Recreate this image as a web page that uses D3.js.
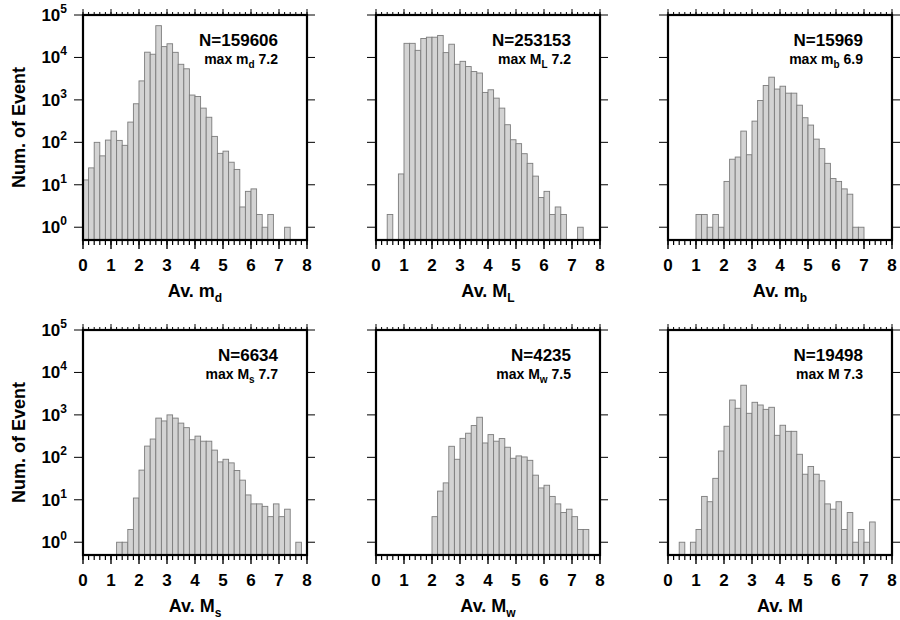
<!DOCTYPE html>
<html>
<head>
<meta charset="utf-8">
<script src="https://cdn.jsdelivr.net/npm/d3@7"></script>
<style>
  body { margin: 0; background: #fff; }
  text { font-family: "Liberation Sans", Arial, Helvetica, sans-serif; font-weight: bold; fill: #000; }
</style>
</head>
<body>
<div id="chart"></div>
<script>
// bin left edges (width 0.2)
var binStarts = [0.0, 0.2, 0.4, 0.6, 0.8, 1.0, 1.2, 1.4, 1.6, 1.8,
                 2.0, 2.2, 2.4, 2.6, 2.8, 3.0, 3.2, 3.4, 3.6, 3.8,
                 4.0, 4.2, 4.4, 4.6, 4.8, 5.0, 5.2, 5.4, 5.6, 5.8,
                 6.0, 6.2, 6.4, 6.6, 6.8, 7.0, 7.2, 7.4, 7.6, 7.8];
var binWidth = 0.2;

// counts per bin
var countsMd = [13, 25, 100, 48, 113, 184, 111, 85, 300, 810,
                2800, 13300, 11900, 56000, 18000, 21000, 13200, 6900, 5400, 1300,
                1200, 640, 390, 138, 55, 62, 34, 23, 3, 7,
                8, 2, 1, 2, 0, 0, 1, 0, 0, 0];
var countsML = [0, 0, 2, 0, 18, 21500, 21500, 14700, 28000, 30000,
                30000, 33000, 13000, 20500, 6900, 8100, 6100, 4650, 4300, 1500,
                1730, 1100, 640, 260, 115, 93, 54, 32, 16, 5,
                7, 2, 3, 2, 0, 0, 1, 0, 0, 0];
var countsMb = [0, 0, 0, 0, 0, 2, 2, 1, 2, 1,
                12, 40, 45, 184, 51, 316, 970, 2180, 3430, 1800,
                2100, 1440, 1440, 750, 380, 255, 119, 71, 32, 14,
                12, 8, 6, 1, 1, 0, 0, 0, 0, 0];
var countsMs = [0, 0, 0, 0, 0, 0, 1, 1, 2, 11,
                50, 184, 270, 840, 720, 1000, 840, 640, 500, 260,
                316, 240, 240, 148, 78, 90, 74, 49, 29, 13,
                8, 8, 7, 4, 8, 4, 6, 0, 1, 0];
var countsMw = [0, 0, 0, 0, 0, 0, 0, 0, 0, 0,
                4, 16, 25, 182, 90, 280, 370, 560, 880, 218,
                343, 240, 277, 173, 95, 108, 102, 85, 38, 19,
                22, 12, 8, 5, 6, 4, 2, 2, 0, 0];
var countsM  = [0, 0, 1, 0, 1, 2, 12, 9, 32, 141,
                540, 2240, 1430, 5000, 1090, 1980, 1710, 1350, 1510, 330,
                570, 410, 410, 118, 40, 61, 40, 28, 8, 6,
                9, 2, 5, 1, 2, 1, 3, 0, 0, 0];

var totals   = ["159606", "253153", "15969", "6634", "4235", "19498"];
var magSym   = ["m", "M", "m", "M", "M", "M"];
var magSub   = ["d", "L", "b", "s", "w", ""];
var maxMags  = ["7.2", "7.2", "6.9", "7.7", "7.5", "7.3"];
var allCounts = [countsMd, countsML, countsMb, countsMs, countsMw, countsM];

var xTicks = [0, 1, 2, 3, 4, 5, 6, 7, 8];
var xMinor = [];
binStarts.forEach(function(b) { xMinor.push(b); });
xMinor.push(8);
var yTicks = [1, 10, 100, 1000, 10000, 100000];
var yExps  = ["0", "1", "2", "3", "4", "5"];

var svgWidth = 900, svgHeight = 620;
var panelW = 224, panelH = 225;
var colLeft = [83, 376, 668];
var rowTop = [15, 330];

var svg = d3.select("#chart").append("svg")
  .attr("width", svgWidth)
  .attr("height", svgHeight);

var x = d3.scaleLinear().domain([0, 8]).range([0, panelW]);
var y = d3.scaleLog().domain([0.5, 100000]).range([panelH, 0]);

allCounts.forEach(function(counts, i) {
  var col = i % 3, row = Math.floor(i / 3);
  var g = svg.append("g")
    .attr("transform", `translate(${colLeft[col]}, ${rowTop[row]})`);

  // bars
  var bins = binStarts.map(function(b, k) { return { x0: b, n: counts[k] }; })
    .filter(function(d) { return d.n > 0; });
  g.selectAll("rect.bar")
    .data(bins)
    .enter()
    .append("rect")
    .attr("class", "bar")
    .attr("x", d => x(d.x0))
    .attr("width", x(binWidth) - x(0))
    .attr("y", d => y(d.n))
    .attr("height", d => y(0.5) - y(d.n))
    .attr("fill", "#d3d3d3")
    .attr("stroke", "#7c7c7c")
    .attr("stroke-width", 0.9);

  // bottom ticks (outward, down)
  g.selectAll("line.bmin").data(xMinor).enter().append("line")
    .attr("x1", d => x(d)).attr("x2", d => x(d))
    .attr("y1", panelH).attr("y2", panelH + 5)
    .attr("stroke", "#000").attr("stroke-width", 1.2);
  g.selectAll("line.bmaj").data(xTicks).enter().append("line")
    .attr("x1", d => x(d)).attr("x2", d => x(d))
    .attr("y1", panelH).attr("y2", panelH + 9)
    .attr("stroke", "#000").attr("stroke-width", 1.4);

  // top ticks (outward, up)
  g.selectAll("line.tmin").data(xMinor).enter().append("line")
    .attr("x1", d => x(d)).attr("x2", d => x(d))
    .attr("y1", 0).attr("y2", -3)
    .attr("stroke", "#000").attr("stroke-width", 1);
  g.selectAll("line.tmaj").data(xTicks).enter().append("line")
    .attr("x1", d => x(d)).attr("x2", d => x(d))
    .attr("y1", 0).attr("y2", -6)
    .attr("stroke", "#000").attr("stroke-width", 1);

  // left and right decade ticks
  g.selectAll("line.lt").data(yTicks).enter().append("line")
    .attr("x1", -9).attr("x2", 0)
    .attr("y1", d => y(d)).attr("y2", d => y(d))
    .attr("stroke", "#000").attr("stroke-width", 1);
  g.selectAll("line.rt").data(yTicks).enter().append("line")
    .attr("x1", panelW).attr("x2", panelW + 8)
    .attr("y1", d => y(d)).attr("y2", d => y(d))
    .attr("stroke", "#000").attr("stroke-width", 1);

  // frame
  g.append("rect")
    .attr("x", 0).attr("y", 0)
    .attr("width", panelW).attr("height", panelH)
    .attr("fill", "none")
    .attr("stroke", "#000")
    .attr("stroke-width", 2.2);

  // x tick labels
  g.selectAll("text.xl").data(xTicks).enter().append("text")
    .attr("x", d => x(d))
    .attr("y", panelH + 31)
    .attr("text-anchor", "middle")
    .style("font-size", "17px")
    .text(d => d);

  // x title
  var xt = g.append("text")
    .attr("x", panelW / 2)
    .attr("y", panelH + 57)
    .attr("text-anchor", "middle")
    .style("font-size", "18px");
  xt.append("tspan").text("Av. " + magSym[i]);
  if (magSub[i]) {
    xt.append("tspan").attr("dy", 5).style("font-size", "12px").text(magSub[i]);
  }

  // annotation
  g.append("text")
    .attr("x", panelW - 29)
    .attr("y", 31)
    .attr("text-anchor", "end")
    .style("font-size", "17px")
    .text("N=" + totals[i]);
  var mt = g.append("text")
    .attr("x", panelW - 29)
    .attr("y", 49)
    .attr("text-anchor", "end")
    .style("font-size", "14px");
  mt.append("tspan").text("max " + magSym[i]);
  if (magSub[i]) {
    mt.append("tspan").attr("dy", 4).style("font-size", "10px").text(magSub[i]);
    mt.append("tspan").attr("dy", -4).text(" " + maxMags[i]);
  } else {
    mt.append("tspan").text(" " + maxMags[i]);
  }

  // y labels on left column only
  if (col === 0) {
    yTicks.forEach(function(t, k) {
      var lab = g.append("text")
        .attr("x", -16)
        .attr("y", y(t) + 6)
        .attr("text-anchor", "end")
        .style("font-size", "17px");
      lab.append("tspan").text("10");
      lab.append("tspan").attr("dy", -8).style("font-size", "12px").text(yExps[k]);
    });
    g.append("text")
      .attr("transform", "rotate(-90)")
      .attr("x", -panelH / 2)
      .attr("y", -58)
      .attr("text-anchor", "middle")
      .style("font-size", "18px")
      .text("Num. of Event");
  }
});
</script>
</body>
</html>
